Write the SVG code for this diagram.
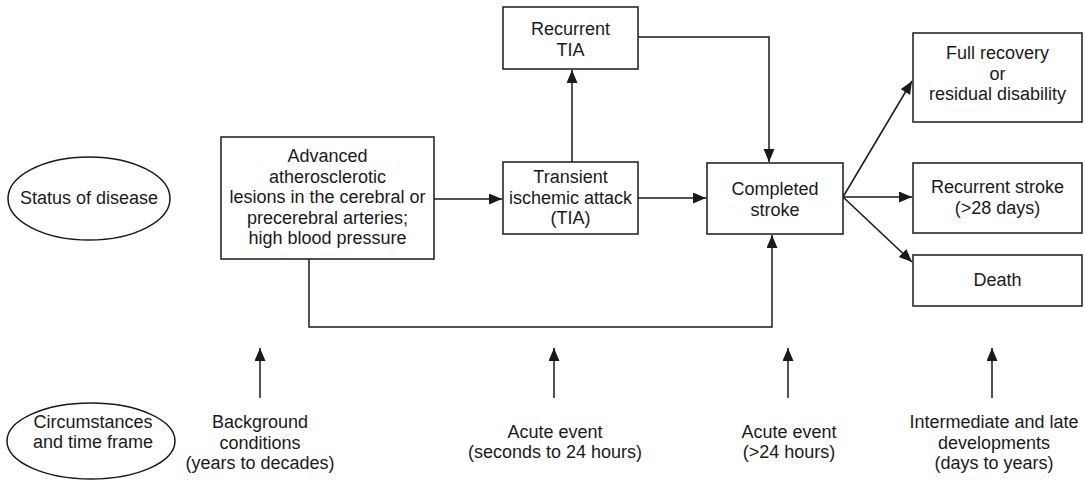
<svg xmlns="http://www.w3.org/2000/svg" width="1086" height="481" viewBox="0 0 1086 481">
<defs>
<marker id="arr" markerUnits="userSpaceOnUse" markerWidth="14" markerHeight="12" refX="13" refY="5.5" orient="auto">
<path d="M0,0 L13,5.5 L0,11 z" fill="#1a1a1a"/>
</marker>
<style>
.n { fill: #fff; stroke: #1a1a1a; stroke-width: 1.5; }
.c { fill: none; stroke: #1a1a1a; stroke-width: 1.5; }
.a { marker-end: url(#arr); }
text { font-family: "Liberation Sans", Arial, sans-serif; font-size: 18px; fill: #1a1a1a; text-anchor: middle; }
</style>
</defs>
<rect x="0" y="0" width="1086" height="481" fill="#fff"/>
<g id="connectors">
<path class="c a" d="M434,199 H502"/>
<path class="c a" d="M572,162 V70"/>
<path class="c a" d="M638,37 H769 V162"/>
<path class="c a" d="M638,198 H706"/>
<path class="c a" d="M309,259 V327 H772 V235"/>
<path class="c a" d="M843,197 L912,81"/>
<path class="c a" d="M843,197 H912"/>
<path class="c a" d="M843,197 L912,262"/>
<path class="c a" d="M260,398 V348"/>
<path class="c a" d="M554,398 V348"/>
<path class="c a" d="M788,398 V348"/>
<path class="c a" d="M992,398 V348"/>
</g>
<g id="status">
<ellipse class="n" cx="89" cy="198.5" rx="81" ry="41.5"/>
<text x="89" y="204">Status of disease</text>
</g>
<g id="circumstances">
<ellipse class="n" cx="91" cy="441" rx="84" ry="38"/>
<text x="93" y="428">Circumstances</text>
<text x="93" y="448">and time frame</text>
</g>
<g id="lesions">
<rect class="n" x="221" y="137" width="213" height="122"/>
<text x="327.5" y="162">Advanced</text>
<text x="327.5" y="182.5">atherosclerotic</text>
<text x="327.5" y="203">lesions in the cerebral or</text>
<text x="327.5" y="223.5">precerebral arteries;</text>
<text x="327.5" y="244">high blood pressure</text>
</g>
<g id="tia">
<rect class="n" x="503" y="162" width="135" height="72"/>
<text x="570.5" y="183">Transient</text>
<text x="570.5" y="204">ischemic attack</text>
<text x="570.5" y="224">(TIA)</text>
</g>
<g id="recurrent-tia">
<rect class="n" x="503" y="7" width="135" height="62"/>
<text x="570.5" y="35">Recurrent</text>
<text x="570.5" y="56">TIA</text>
</g>
<g id="completed">
<rect class="n" x="707" y="163" width="136" height="71"/>
<text x="775" y="195">Completed</text>
<text x="775" y="216">stroke</text>
</g>
<g id="full-recovery">
<rect class="n" x="913" y="33" width="169" height="89"/>
<text x="997.5" y="59">Full recovery</text>
<text x="997.5" y="79.5">or</text>
<text x="997.5" y="100">residual disability</text>
</g>
<g id="recurrent-stroke">
<rect class="n" x="913" y="163" width="169" height="70"/>
<text x="997.5" y="193">Recurrent stroke</text>
<text x="997.5" y="214">(&gt;28 days)</text>
</g>
<g id="death">
<rect class="n" x="913" y="255" width="169" height="51"/>
<text x="997.5" y="286">Death</text>
</g>
<g id="background">
<text x="260" y="428">Background</text>
<text x="260" y="449">conditions</text>
<text x="260" y="469">(years to decades)</text>
</g>
<g id="acute1">
<text x="555" y="438">Acute event</text>
<text x="555" y="458">(seconds to 24 hours)</text>
</g>
<g id="acute2">
<text x="789" y="438">Acute event</text>
<text x="789" y="458">(&gt;24 hours)</text>
</g>
<g id="late">
<text x="994" y="428">Intermediate and late</text>
<text x="994" y="449">developments</text>
<text x="994" y="469">(days to years)</text>
</g>
</svg>
